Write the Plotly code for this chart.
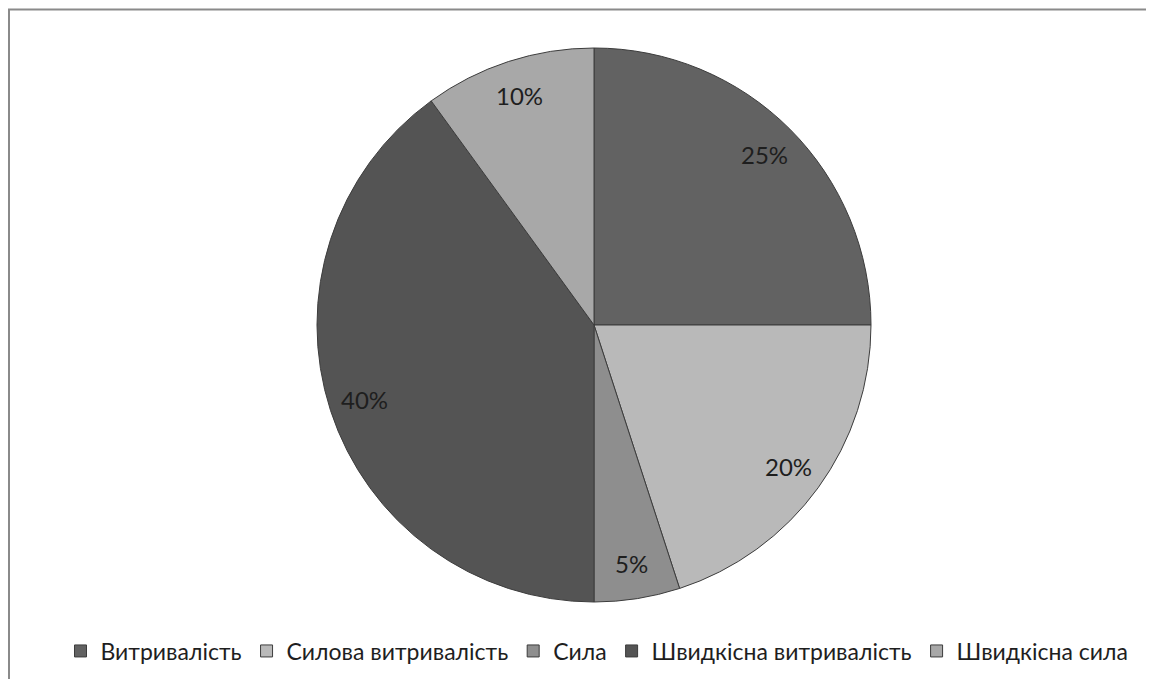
import math
import plotly.graph_objects as go

categories = ["Витривалість", "Силова витривалість", "Сила", "Швидкісна витривалість", "Швидкісна сила"]
values = [25, 20, 5, 40, 10]
colors = ["#626262", "#b9b9b9", "#8e8e8e", "#545454", "#a8a8a8"]

# page body has an 8px margin, so figure coordinates are offset by 8px
W, H = 1146, 671
cx, cy, r = 586, 317, 277
label_frac = 0.87

fig = go.Figure(go.Pie(
    labels=categories,
    values=values,
    sort=False,
    direction="clockwise",
    rotation=0,
    marker=dict(colors=colors, line=dict(color="#3c3c3c", width=1)),
    textinfo="none",
    domain=dict(x=[(cx - r) / W, (cx + r) / W], y=[(H - cy - r) / H, (H - cy + r) / H]),
    showlegend=True,
))

# percentage labels placed along each slice's mid-angle (Excel-style, near the rim)
total = sum(values)
annotations = []
cum = 0
for v in values:
    mid = (cum + v / 2) / total * 2 * math.pi
    cum += v
    px = cx + label_frac * r * math.sin(mid)
    py = cy - label_frac * r * math.cos(mid)
    annotations.append(dict(
        x=px / W, y=1 - py / H, xref="paper", yref="paper",
        text=f"{round(v / total * 100)}%", showarrow=False,
        font=dict(family="Lato, Open Sans, sans-serif", size=24, color="#1e1e1e"),
        xanchor="center", yanchor="middle",
    ))

fig.update_layout(
    width=W, height=H,
    margin=dict(l=0, r=0, t=0, b=0),
    paper_bgcolor="white",
    plot_bgcolor="white",
    font=dict(family="Lato, Open Sans, sans-serif", color="#1e1e1e"),
    legend=dict(
        orientation="h",
        x=589 / W, xanchor="center",
        y=(H - 643) / H, yanchor="middle",
        font=dict(size=23, color="#1e1e1e"),
        itemwidth=30,
        tracegroupgap=0,
    ),
    annotations=annotations,
    shapes=[dict(
        type="rect", xref="paper", yref="paper",
        x0=1 / W, x1=1.02, y0=-0.02, y1=1 - 1.5 / H,
        line=dict(color="#8a8a8a", width=2),
        fillcolor="rgba(0,0,0,0)",
        layer="below",
    )],
)

fig.write_html("out.html")
